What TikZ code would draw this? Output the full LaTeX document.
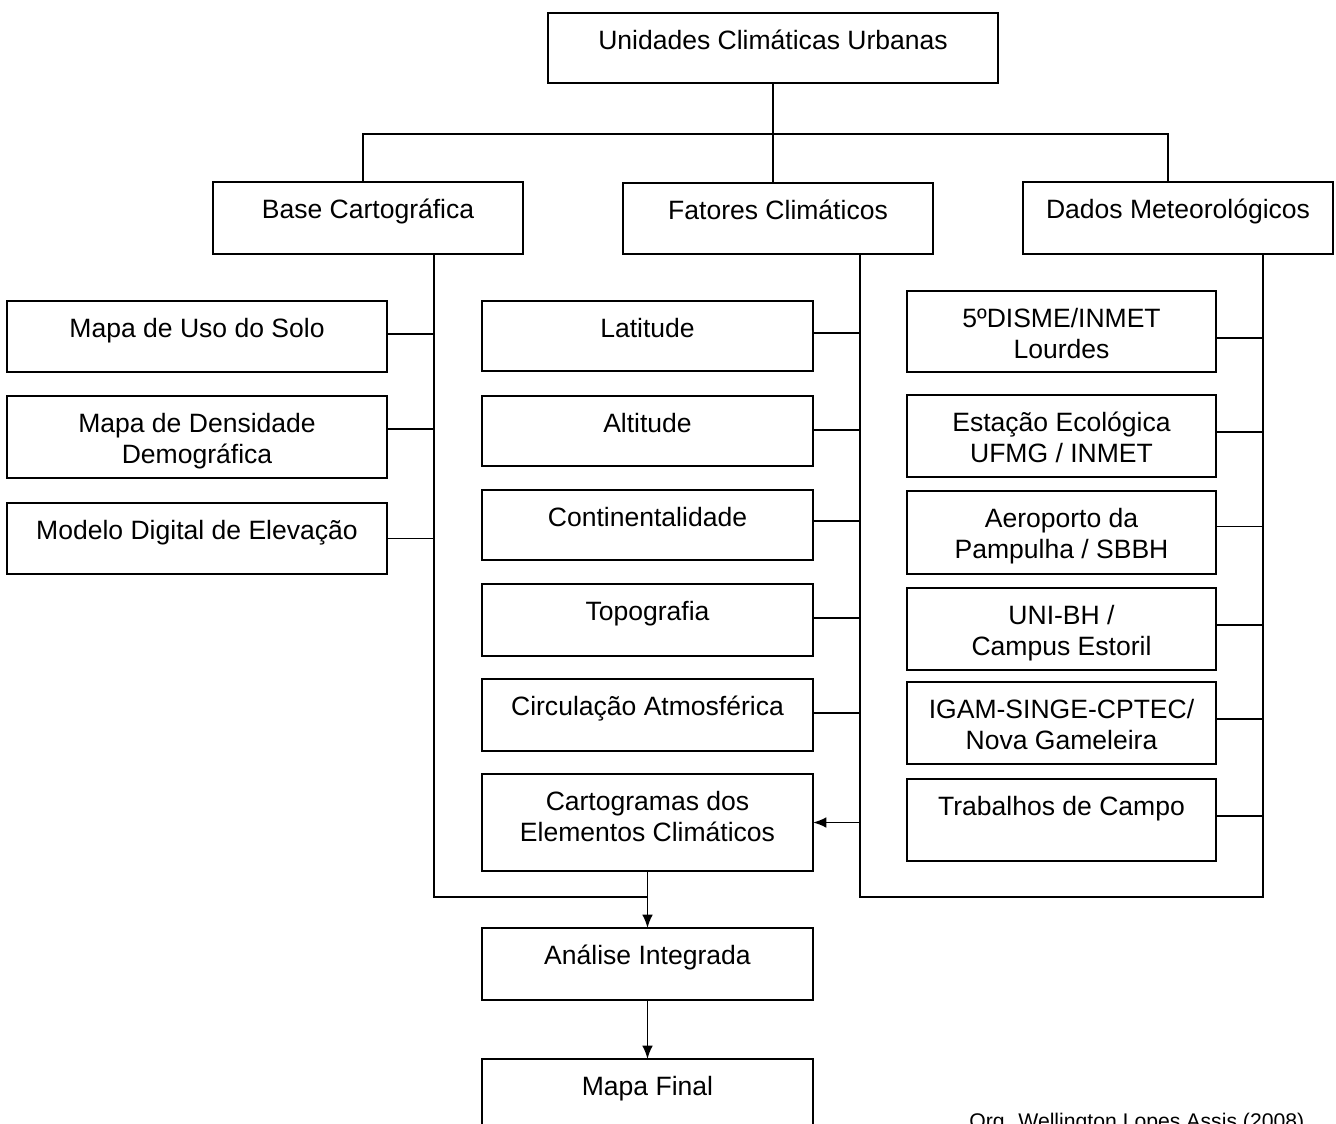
\documentclass[tikz,border=0pt]{standalone}
\usepackage{fontspec}
\setmainfont{Liberation Sans}
\usetikzlibrary{arrows.meta}
\newcommand\mainf{\fontsize{19.9pt}{23.25pt}\selectfont}
\newcommand\mystrut{\rule{0pt}{1em}}
\tikzset{
  box/.style={draw, line width=1.3pt, outer sep=0pt, inner sep=0pt},
  txt/.style={anchor=north, align=center, inner sep=0pt, yshift=-7.1pt, font=\mainf},
  conn/.style={line width=1.3pt},
  arr/.style={line width=1.3pt, -{Latex[length=10pt,width=8pt]}}
}
\newcommand\bx[6]{\node[box, minimum width={(#4-#2)*0.75pt}, minimum height={(#5-#3)*0.75pt},
  label={[txt]north:{\mystrut#6}}] (#1) at ({(#2+#4)/2},{(#3+#5)/2}) {};}
\begin{document}
\begin{tikzpicture}[x=0.75pt,y=-0.75pt]
\useasboundingbox (0,0) rectangle (1336,1124);
\clip (0,0) rectangle (1336,1124);
% top level
\bx{ucu}{548}{13}{998}{83}{Unidades Climáticas Urbanas}
\bx{base}{213}{182}{523}{254}{Base Cartográfica}
\bx{fat}{623}{183}{933}{254}{Fatores Climáticos}
\bx{dados}{1023}{182}{1333}{254}{Dados Meteorológicos}
% base children
\bx{uso}{7}{301}{387}{372}{Mapa de Uso do Solo}
\bx{dens}{7}{396}{387}{478}{Mapa de Densidade\\Demográfica}
\bx{mde}{7}{503}{387}{574}{Modelo Digital de Elevação}
% fatores children
\bx{lat}{482}{301}{813}{371}{Latitude}
\bx{alt}{482}{396}{813}{466}{Altitude}
\bx{cont}{482}{490}{813}{560}{Continentalidade}
\bx{topo}{482}{584}{813}{656}{Topografia}
\bx{circ}{482}{679}{813}{751}{Circulação Atmosférica}
\bx{carto}{482}{774}{813}{871}{Cartogramas dos\\Elementos Climáticos}
% dados children
\bx{da}{907}{291}{1216}{372}{5ºDISME/INMET\\Lourdes}
\bx{db}{907}{395}{1216}{477}{Estação Ecológica\\UFMG / INMET}
\bx{dc}{907}{491}{1216}{574}{Aeroporto da\\Pampulha / SBBH}
\bx{dd}{907}{588}{1216}{670}{UNI-BH /\\Campus Estoril}
\bx{de}{907}{682}{1216}{764}{IGAM-SINGE-CPTEC/\\Nova Gameleira}
\bx{df}{907}{779}{1216}{861}{Trabalhos de Campo}
% bottom
\bx{ana}{482}{928}{813}{1000}{Análise Integrada}
\bx{mapa}{482}{1059}{813}{1150}{Mapa Final}
\node[anchor=base west, inner sep=0pt, font=\fontsize{15.9pt}{18pt}\selectfont] (org) at (969,1128) {Org. Wellington Lopes Assis (2008)};
% coordinates of trunks
\coordinate (bj) at (363,134);
\coordinate (dj) at (1168,134);
\coordinate (bt) at (434,897);
\coordinate (ft) at (860,897);
\coordinate (dt) at (1263,897);
% top connectors
\draw[conn] (ucu.south) -- (ucu.south |- fat.north);
\draw[conn] (bj |- base.north) -- (bj) -- (dj) -- (dj |- dados.north);
% trunks
\draw[conn] (bt |- base.south) -- (bt) -- (bt -| carto.south);
\draw[conn] (ft |- fat.south) -- (ft) -- (dt) -- (dt |- dados.south);
% base children
\draw[conn] ([yshift=1.9pt]uso.east) -- ([yshift=1.9pt]uso.east -| bt);
\draw[conn] ([yshift=6pt]dens.east) -- ([yshift=6pt]dens.east -| bt);
\draw[conn] (mde.east) -- (mde.east -| bt);
% fatores children
\draw[conn] ([yshift=2.25pt]lat.east) -- ([yshift=2.25pt]lat.east -| ft);
\draw[conn] ([yshift=0.75pt]alt.east) -- ([yshift=0.75pt]alt.east -| ft);
\draw[conn] ([yshift=3pt]cont.east) -- ([yshift=3pt]cont.east -| ft);
\draw[conn] ([yshift=1.5pt]topo.east) -- ([yshift=1.5pt]topo.east -| ft);
\draw[conn] ([yshift=1.5pt]circ.east) -- ([yshift=1.5pt]circ.east -| ft);
\draw[arr] (carto.east -| ft) -- (carto.east);
% dados children
\draw[conn] ([yshift=-4.9pt]da.east) -- ([yshift=-4.9pt]da.east -| dt);
\draw[conn] ([yshift=3pt]db.east) -- ([yshift=3pt]db.east -| dt);
\draw[conn] ([yshift=4.5pt]dc.east) -- ([yshift=4.5pt]dc.east -| dt);
\draw[conn] ([yshift=3pt]dd.east) -- ([yshift=3pt]dd.east -| dt);
\draw[conn] ([yshift=3pt]de.east) -- ([yshift=3pt]de.east -| dt);
\draw[conn] ([yshift=3pt]df.east) -- ([yshift=3pt]df.east -| dt);
% bottom arrows
\draw[arr] (carto.south) -- (ana.north);
\draw[arr] (ana.south) -- (mapa.north);
\end{tikzpicture}
\end{document}
